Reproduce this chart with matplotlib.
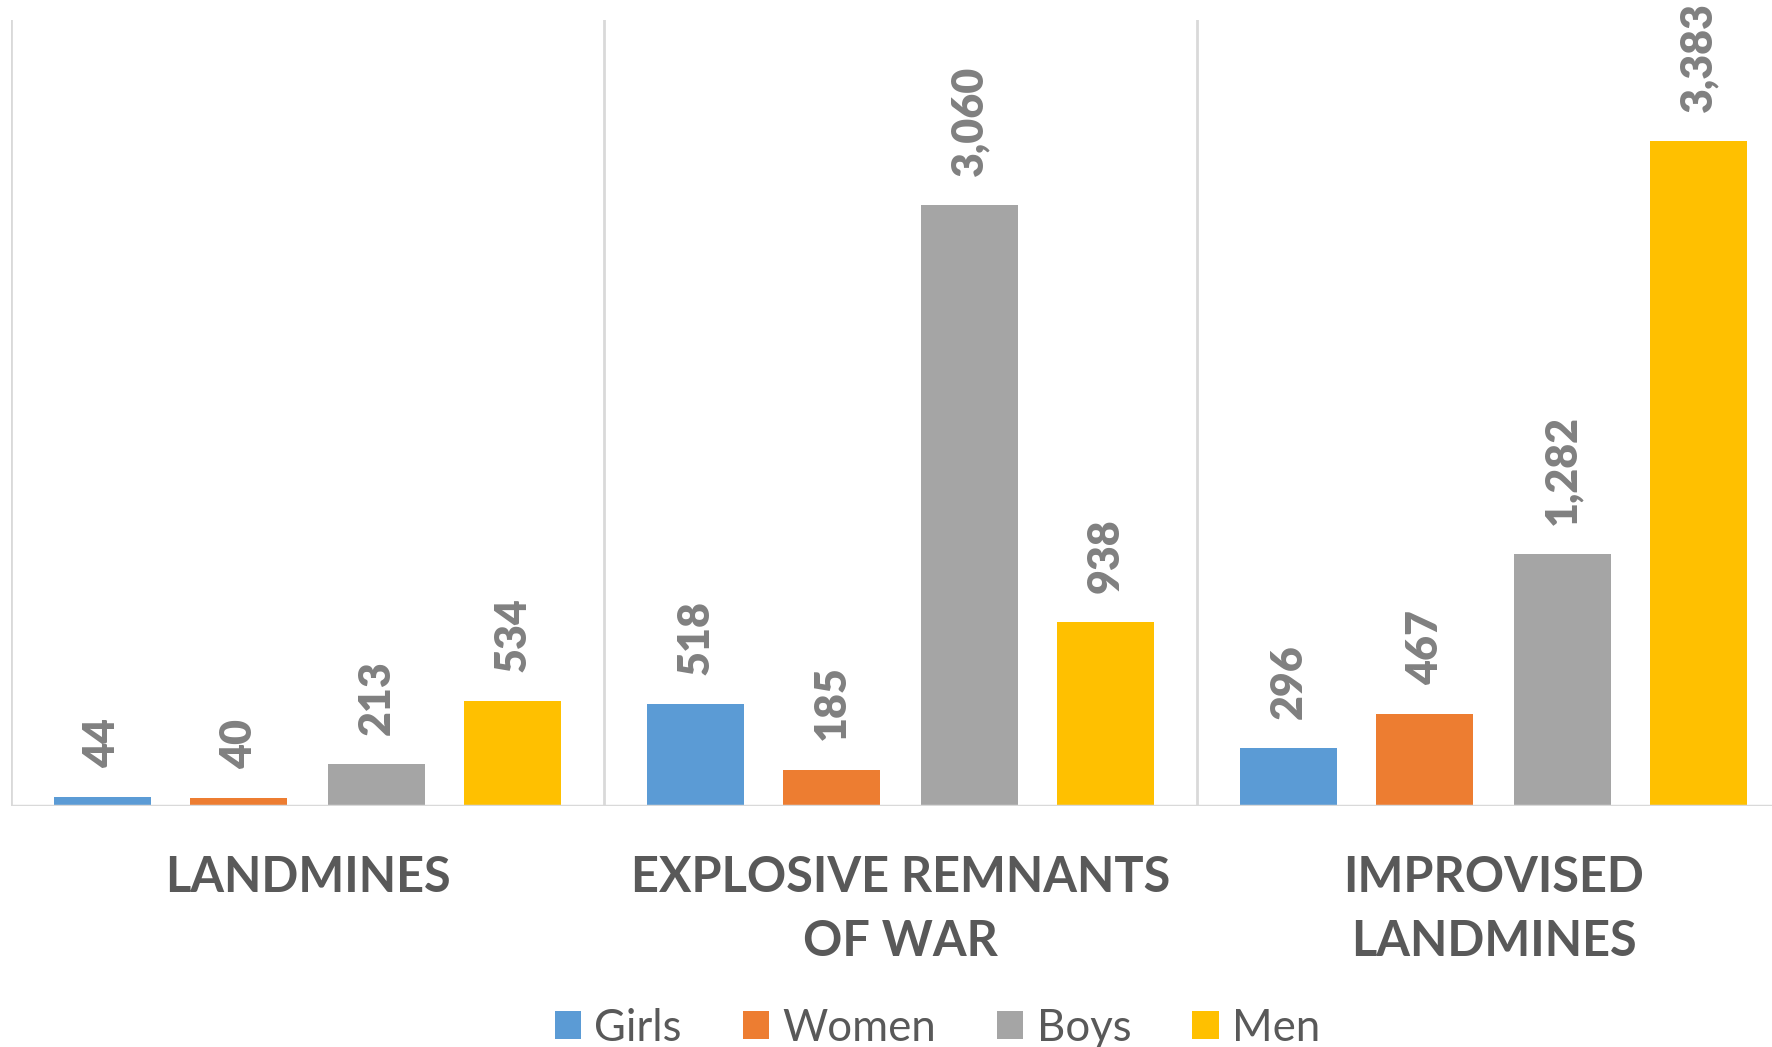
import matplotlib
matplotlib.use('Agg')
import matplotlib.pyplot as plt
import numpy as np
from matplotlib.patches import Patch

categories = ['LANDMINES', 'EXPLOSIVE REMNANTS\nOF WAR', 'IMPROVISED\nLANDMINES']
series_names = ['Girls', 'Women', 'Boys', 'Men']
girls = [44, 518, 296]
women = [40, 185, 467]
boys = [213, 3060, 1282]
men = [534, 938, 3383]
colors = ['#5B9BD5', '#ED7D31', '#A5A5A5', '#FFC000']

plt.rcParams['font.family'] = ['Lato', 'DejaVu Sans']

fig = plt.figure(figsize=(17.72, 10.47), dpi=100)
ax = fig.add_axes([11 / 1772, 1 - 806 / 1047, 1779 / 1772, 786 / 1047])

x = np.arange(len(categories))
offsets = [-0.346, -0.116, 0.116, 0.346]
width = 0.163
for values, name, color, off in zip([girls, women, boys, men], series_names, colors, offsets):
  bars = ax.bar(x + off, values, width, color=color, label=name, zorder=3)
  for b, v in zip(bars, values):
    ax.annotate(f'{v:,}', (b.get_x() + b.get_width() / 2, v), xytext=(0, 21),
                textcoords='offset points', rotation=90, ha='center', va='bottom',
                fontsize=31, fontweight='heavy', color='#808080')

ax.set_xlim(-0.5, 2.5)
ax.set_ylim(0, 4000)
for s in ax.spines.values():
  s.set_visible(False)
ax.set_yticks([])
ax.set_xticks([])
for sep in [-0.5, 0.5, 1.5]:
  ax.axvline(sep, color='#D9D9D9', linewidth=2, zorder=1)
ax.axhline(0, color='#D9D9D9', linewidth=2.5, zorder=4)

for xi, cat in zip(x, categories):
  ax.text(xi, -250, cat, ha='center', va='top', fontsize=35, fontweight='bold',
          color='#595959', linespacing=1.5)

handles = [Patch(facecolor=c, label=n) for c, n in zip(colors, series_names)]
fig.legend(handles=handles, loc='center', bbox_to_anchor=(0.529, 0.018), ncol=4,
           frameon=False, fontsize=31.5, labelcolor='#595959', handlelength=0.6,
           handleheight=0.6, handletextpad=0.3, columnspacing=1.4)

fig.savefig('out.png', dpi=100)
